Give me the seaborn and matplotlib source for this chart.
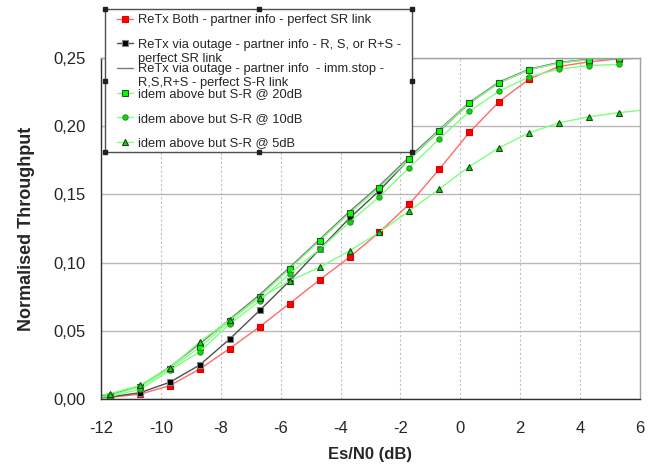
import numpy as np
import matplotlib
matplotlib.use("Agg")
import matplotlib.pyplot as plt
import seaborn as sns
from matplotlib.patches import Rectangle
from matplotlib.lines import Line2D

# Es/N0 grid (dB) - first and last points are line ends without markers
es_n0 = [-12.0, -11.7, -10.7, -9.7, -8.7, -7.7, -6.7, -5.7, -4.7, -3.7,
         -2.7, -1.7, -0.7, 0.3, 1.3, 2.3, 3.3, 4.3, 5.3, 6.0]

retx_both = [0.001, 0.0012, 0.0035, 0.0098, 0.022, 0.037, 0.053, 0.070, 0.0873, 0.104,
             0.1223, 0.143, 0.1685, 0.1954, 0.2181, 0.2346, 0.2438, 0.2472, 0.2494, 0.2498]
retx_outage = [0.001, 0.0015, 0.0046, 0.0123, 0.025, 0.044, 0.065, 0.0866, 0.1098, 0.1326,
               0.1528, 0.176, 0.1965, 0.2168, 0.232, 0.2415, 0.2465, 0.249, 0.2497, 0.25]
retx_immstop = [0.0025, 0.003, 0.0095, 0.0235, 0.0405, 0.0585, 0.0765, 0.0965, 0.117, 0.1375,
                0.1565, 0.1775, 0.1975, 0.2175, 0.2325, 0.2418, 0.2468, 0.249, 0.2497, 0.25]
sr_20db = [0.0015, 0.0025, 0.009, 0.022, 0.038, 0.057, 0.075, 0.0954, 0.116, 0.1362,
           0.155, 0.176, 0.1968, 0.217, 0.2318, 0.2414, 0.2463, 0.2489, 0.2497, 0.25]
sr_10db = [0.0015, 0.002, 0.007, 0.021, 0.0347, 0.055, 0.072, 0.0917, 0.1098, 0.1296,
           0.1484, 0.1697, 0.1908, 0.2108, 0.2258, 0.2362, 0.2419, 0.2445, 0.2453, np.nan]
sr_5db = [0.003, 0.004, 0.010, 0.023, 0.042, 0.058, 0.074, 0.0866, 0.0966, 0.1086,
          0.1223, 0.138, 0.154, 0.1704, 0.1842, 0.1952, 0.2025, 0.2069, 0.210, 0.2115]

labels_first = ["ReTx Both - partner info - perfect SR link",
                "ReTx via outage - partner info - R, S, or R+S -",
                "ReTx via outage - partner info  - imm.stop -",
                "idem above but S-R @ 20dB",
                "idem above but S-R @ 10dB",
                "idem above but S-R @ 5dB"]
labels_second = ["", "perfect SR link", "R,S,R+S - perfect S-R link", "", "", ""]

x_ticks = [-12, -10, -8, -6, -4, -2, 0, 2, 4, 6]
y_ticks = [0.0, 0.05, 0.10, 0.15, 0.20, 0.25]
y_tick_labels = ["0,00", "0,05", "0,10", "0,15", "0,20", "0,25"]

series = [retx_both, retx_outage, retx_immstop, sr_20db, sr_10db, sr_5db]
# line colour, marker, face, edge, size
styles = [("#ff6a6a", "s", "#ff0000", "#e00000", 4.2),
          ("#505050", "s", "#000000", "#808080", 4.2),
          ("#7a7a7a", None, None, None, 0),
          ("#80ff80", "s", "#00ff00", "#305030", 4.2),
          ("#80ff80", "o", "#00e000", "#309030", 3.8),
          ("#80ff80", "^", "#00e000", "#204020", 4.8)]

sns.set_style("white")
plt.rcParams["font.family"] = ["Liberation Sans", "DejaVu Sans"]

fig = plt.figure(figsize=(6.5, 4.75), dpi=100)
ax = fig.add_axes([101 / 650, 1 - 399 / 475, 539 / 650, 341 / 475])

handles = []
for vals, (lc, mk, fc, ec, ms) in zip(series, styles):
    kw = dict(color=lc, lw=1)
    if mk:
        kw.update(marker=mk, markersize=ms, markerfacecolor=fc,
                  markeredgecolor=ec, markeredgewidth=0.8, markevery=slice(1, 19))
    sns.lineplot(x=es_n0, y=vals, ax=ax, legend=False, **kw)
    hk = {k: v for k, v in kw.items() if k != "markevery"}
    handles.append(Line2D([0], [0], **hk))

ax.set_xlim(-12, 6)
ax.set_ylim(0, 0.25)
ax.set_xticks(x_ticks)
ax.set_xticklabels([str(t) for t in x_ticks])
ax.set_yticks(y_ticks)
ax.set_yticklabels(y_tick_labels)
ax.tick_params(axis="x", direction="out", length=5, width=0.8, color="#303030",
               pad=11, labelsize=12)
ax.tick_params(axis="y", direction="out", length=5, width=0.8, color="#303030",
               pad=6, labelsize=12)
ax.yaxis.grid(True, color="#b8b8b8", lw=1, ls="-")
ax.xaxis.grid(True, color="#c0c0c0", lw=0.8, ls=(0, (2, 2)))
ax.set_axisbelow(True)
for s in ["left", "bottom"]:
    ax.spines[s].set_color("#303030")
    ax.spines[s].set_linewidth(1)
for s in ["right", "top"]:
    ax.spines[s].set_color("#a0a0a0")
    ax.spines[s].set_linewidth(1)

ax.set_xlabel("Es/N0 (dB)", fontsize=12, fontweight="bold", labelpad=8)
ax.set_ylabel("Normalised Throughput", fontsize=13, fontweight="bold", labelpad=13)

# legend box (white, on top of the plot area) with selection handles
W, H = 650, 475
lx0, lx1, ly0, ly1 = 105, 412, 9, 152
fig.patches.append(Rectangle((lx0 / W, 1 - ly1 / H), (lx1 - lx0) / W, (ly1 - ly0) / H,
                             transform=fig.transFigure, facecolor="white",
                             edgecolor="#505050", lw=1, zorder=1))
hx = [lx0, (lx0 + lx1) / 2, lx1, lx0, lx1, lx0, (lx0 + lx1) / 2, lx1]
hy = [ly0, ly0, ly0, (ly0 + ly1) / 2, (ly0 + ly1) / 2, ly1, ly1, ly1]
fig.add_artist(Line2D([x / W for x in hx], [1 - y / H for y in hy], ls="none",
                      marker="s", ms=2.5, color="#202020", transform=fig.transFigure,
                      zorder=6))

leg = fig.legend(handles, labels_first, loc="upper left",
                 bbox_to_anchor=(117 / W, 1 - 14 / H), bbox_transform=fig.transFigure,
                 frameon=False, fontsize=9.3, borderpad=0, borderaxespad=0,
                 handlelength=1.25, handletextpad=0.35, labelspacing=0.98, numpoints=1)

fig.canvas.draw()
for t, extra in zip(leg.get_texts(), labels_second):
    if extra:
        bb = t.get_window_extent()
        fig.text(bb.x0 / W, ((bb.y0 + bb.y1) / 2 - 14) / H, extra, fontsize=9.3,
                 va="center", ha="left", zorder=7)

plt.savefig("out.png", dpi=100)
plt.close()
